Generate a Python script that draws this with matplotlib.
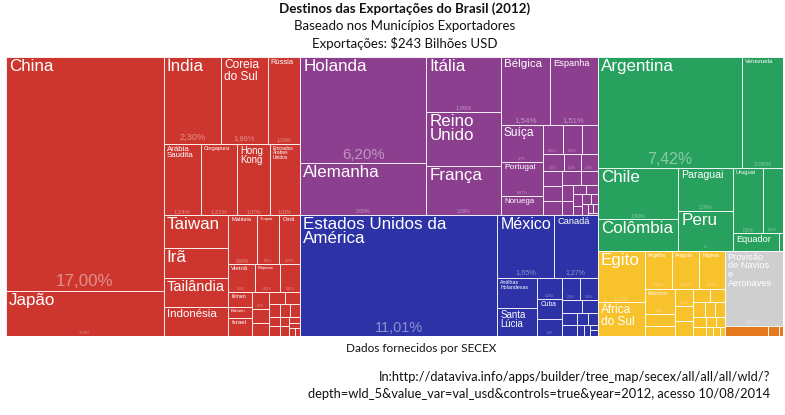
import matplotlib
matplotlib.use("Agg")
import matplotlib.pyplot as plt
from matplotlib.patches import Rectangle
from matplotlib.font_manager import FontProperties

# ---------------- data: share of Brazil's exports 2012 (%) ----------------
asia_names = ["China", "Japão", "Índia", "Coreia do Sul", "Rússia", "Arábia Saudita",
              "Cingapura", "Hong Kong", "Emirados Árabes Unidos", "Taiwan", "Irã",
              "Tailândia", "Indonésia", "Malásia", "Turquia", "Omã", "Vietnã",
              "Filipinas", "", "Iêmen", "Bahrein", "Israel"]
asia_values = [17.00, 3.28, 2.30, 1.86, 1.29, 1.24, 1.21, 1.07, 1.01, 0.97, 0.90,
               0.86, 0.85, 0.66, 0.50, 0.47, 0.34, 0.32, 0.26, 0.16, 0.12, 0.20]
asia_small = [0.13, 0.11, 0.10, 0.09, 0.08, 0.07, 0.06, 0.06, 0.05, 0.05, 0.04,
              0.04, 0.03, 0.03, 0.02, 0.02]

europe_names = ["Holanda", "Alemanha", "Itália", "Reino Unido", "França", "Bélgica",
                "Espanha", "Suíça", "Portugal", "Noruega", "", "", ""]
europe_values = [6.20, 3.00, 1.89, 1.84, 1.69, 1.54, 1.51, 0.70, 0.67, 0.36,
                 0.26, 0.26, 0.20]
europe_small = [0.17, 0.14, 0.14, 0.13, 0.13, 0.12, 0.12, 0.10, 0.08, 0.07, 0.06,
                0.05, 0.05, 0.04, 0.04, 0.03, 0.03, 0.02, 0.02, 0.01]

na_names = ["Estados Unidos da América", "México", "Canadá", "Antilhas Holandesas",
            "Santa Lúcia", "", "Cuba", ""]
na_values = [11.01, 1.65, 1.27, 0.55, 0.52, 0.24, 0.23, 0.20]
na_small = [0.18, 0.18, 0.12, 0.10, 0.08, 0.07, 0.06, 0.05, 0.04, 0.03, 0.02, 0.02]

sa_names = ["Argentina", "Venezuela", "Chile", "Colômbia", "Paraguai", "Peru",
            "Uruguai", "", "Equador", ""]
sa_values = [7.42, 2.08, 1.90, 1.17, 1.08, 1.00, 0.90, 0.61, 0.37, 0.03]

africa_names = ["Egito", "África do Sul", "Argélia", "Angola", "Nigéria", "Marrocos",
                "", "", "", "", ""]
africa_values = [1.12, 0.73, 0.48, 0.47, 0.44, 0.36, 0.17, 0.14, 0.14, 0.13, 0.12]
africa_small = [0.10, 0.09, 0.08, 0.07, 0.07, 0.06, 0.05, 0.05, 0.04, 0.03, 0.03, 0.02]

other_names = ["Provisão de Navios e Aeronaves"]
other_values = [2.01]

oceania_names = ["", "", ""]
oceania_values = [0.21, 0.05, 0.02]

title_lines = ["Destinos das Exportações do Brasil (2012)",
               "Baseado nos Municípios Exportadores",
               "Exportações: $243 Bilhões USD"]
source_text = "Dados fornecidos por SECEX"
ref_lines = ["In:http://dataviva.info/apps/builder/tree_map/secex/all/all/all/wld/?",
             "depth=wld_5&value_var=val_usd&controls=true&year=2012, acesso 10/08/2014"]

# ---------------- styles ----------------
COLORS = {"asia": "#CC362E", "europe": "#8C3F8F", "na": "#2D33A7",
          "sa": "#28A05E", "africa": "#F8C22D", "other": "#CFCFCF",
          "oceania": "#E5791F"}
LABEL_FONT = ["Liberation Sans", "DejaVu Sans"]
TEXT_FONT = ["Lato", "DejaVu Sans"]

regions = {
    "asia": dict(names=asia_names, values=asia_values, small=asia_small),
    "europe": dict(names=europe_names, values=europe_values, small=europe_small),
    "na": dict(names=na_names, values=na_values, small=na_small),
    "sa": dict(names=sa_names, values=sa_values, small=[]),
    "africa": dict(names=africa_names, values=africa_values, small=africa_small),
    "other": dict(names=other_names, values=other_values, small=[]),
    "oceania": dict(names=oceania_names, values=oceania_values, small=[]),
}

# slice structure ("h" = side by side, "v" = stacked); ints index region arrays
TREES = {
    "asia": ("h", [("v", [0, 1]),
                   ("v", [("h", [2, 3, 4]), ("h", [5, 6, 7, 8]),
                          ("h", [("v", [9, 10, 11, 12]),
                                 ("v", [("h", [13, 14, 15]), ("h", [16, 17, 18]),
                                        ("h", [("v", [19, 20, 21]), "small"])])])])]),
    "europe": ("h", [("v", [0, 1]), ("v", [2, 3, 4]),
                     ("v", [("h", [5, 6]),
                            ("h", [("v", [7, 8, 9]),
                                   ("v", [("h", [10, 11, 12]), "small"])])])]),
    "na": ("h", [0, ("v", [("h", [1, 2]),
                           ("h", [("v", [3, 4]), ("v", [5, 6, 7]), "small"])])]),
    "sa": ("v", [("h", [0, 1]),
                 ("h", [("v", [2, 3]), ("v", [4, 5]),
                        ("v", [("h", [6, 7]), ("h", [8, 9])])])]),
    "africa": ("h", [("v", [0, 1]),
                     ("v", [("h", [2, 3, 4]),
                            ("h", [("v", [5, 6, 7]), ("v", [8, 9, 10]), "small"])])]),
    "other": ("v", [0]),
    "oceania": ("h", [0, 1, 2]),
}


def bind(tree, reg):
    if isinstance(tree, int):
        return ("leaf", reg, tree)
    if tree == "small":
        return ("sq", reg)
    kind, kids = tree
    return (kind, [bind(k, reg) for k in kids])


B = {k: bind(t, k) for k, t in TREES.items()}
WORLD = ("h", [B["asia"], ("v", [B["europe"], B["na"]]),
               ("v", [B["sa"], ("h", [B["africa"], ("v", [B["other"], B["oceania"]])])])])


def node_value(n):
    if n[0] == "leaf":
        return regions[n[1]]["values"][n[2]]
    if n[0] == "sq":
        return sum(regions[n[1]]["small"])
    return sum(node_value(k) for k in n[1])


def worst(row, side):
    s = sum(row)
    return max(max(side * side * r / (s * s), (s * s) / (side * side * r)) for r in row)


def squarify(vals, x, y, w, h):
    total = sum(vals)
    areas = [v / total * w * h for v in vals]
    rects = []
    i = 0
    while i < len(areas):
        side = min(w, h)
        row = [areas[i]]
        j = i + 1
        while j < len(areas) and worst(row + [areas[j]], side) <= worst(row, side):
            row.append(areas[j])
            j += 1
        s = sum(row)
        if w >= h:
            cw = s / h
            yy = y
            for a in row:
                rh = a / cw
                rects.append((x, yy, cw, rh))
                yy += rh
            x += cw
            w -= cw
        else:
            rh = s / w
            xx = x
            for a in row:
                cw = a / rh
                rects.append((xx, y, cw, rh))
                xx += cw
            y += rh
            h -= rh
        i = j
    return rects


def layout(n, x, y, w, h, out):
    kind = n[0]
    if kind == "leaf":
        reg = regions[n[1]]
        out.append((x, y, w, h, reg["names"][n[2]], reg["values"][n[2]], n[1]))
        return
    if kind == "sq":
        vals = sorted(regions[n[1]]["small"], reverse=True)
        for (rx, ry, rw, rh), v in zip(squarify(vals, x, y, w, h), vals):
            out.append((rx, ry, rw, rh, "", v, n[1]))
        return
    kids = n[1]
    tot = sum(node_value(k) for k in kids)
    pos = 0.0
    for k in kids:
        f = node_value(k) / tot
        if kind == "h":
            layout(k, x + pos, y, w * f, h, out)
            pos += w * f
        else:
            layout(k, x, y + pos, w, h * f, out)
            pos += h * f


def fmt_pct(v):
    s = f"{v:.2f}"
    if v < 1:
        s = s.rstrip("0").rstrip(".")
    if s == "1.00":
        s = "1"
    return s.replace(".", ",") + "%"


# ---------------- figure ----------------
FW, FH, DPI = 785, 415, 100
fig = plt.figure(figsize=(FW / DPI, FH / DPI), dpi=DPI)
fig.patch.set_facecolor("white")
L, T, R, Bm = 6, 57, 783, 336
ax = fig.add_axes([L / FW, 1 - Bm / FH, (R - L) / FW, (Bm - T) / FH])
W, H = R - L, Bm - T
ax.set_xlim(0, W)
ax.set_ylim(H, 0)
ax.axis("off")

rects = []
layout(WORLD, 0, 0, W, H, rects)

renderer = fig.canvas.get_renderer()
PX2PT = 72.0 / DPI


def text_width(s, fs_px):
    prop = FontProperties(family=LABEL_FONT, size=fs_px * PX2PT)
    w, _, _ = renderer.get_text_width_height_descent(s, prop, ismath=False)
    return w


def wrap(name, fs_px, aw):
    words = name.split()
    lines, cur = [], ""
    for wd in words:
        if text_width(wd, fs_px) > aw:
            return None
        trial = (cur + " " + wd).strip()
        if text_width(trial, fs_px) <= aw:
            cur = trial
        else:
            lines.append(cur)
            cur = wd
    lines.append(cur)
    return lines


def fit_name(name, w, h):
    pad = 3
    aw = w - 2 * pad
    fs = 17.0
    while fs >= 4.0:
        lines = wrap(name, fs, aw)
        if lines is not None and len(lines) * fs * 1.05 <= 0.85 * h:
            if fs < 14:
                fs = fs * 0.88
            return fs, lines
        fs -= 0.5
    return None


for (x, y, w, h, name, val, reg) in rects:
    ax.add_patch(Rectangle((x, y), w, h, facecolor=COLORS[reg],
                           edgecolor=(1, 1, 1, 0.85), linewidth=0.7))
    block = 0
    if name:
        fit = fit_name(name, w, h)
        if fit:
            fs, lines = fit
            ax.text(x + 3, y + 2, "\n".join(lines), ha="left", va="top",
                    fontsize=fs * PX2PT, color="white", family=LABEL_FONT,
                    linespacing=0.95)
            block = len(lines) * fs * 1.05 + 3
    ps = min(17.0, 0.16 * w, 0.18 * (h - block - 2))
    if ps >= 2.6:
        ax.text(x + w / 2, y + h - 1.5, fmt_pct(val), ha="center", va="bottom",
                fontsize=ps * PX2PT, color=(1, 1, 1, 0.45), family=LABEL_FONT)

# ---------------- titles and notes ----------------
fig.text(405 / FW, 1 - 9 / FH, title_lines[0], ha="center", va="center",
         fontsize=9.6, fontweight="bold", family=TEXT_FONT, color="#111111")
fig.text(405 / FW, 1 - 26 / FH, title_lines[1], ha="center", va="center",
         fontsize=9.5, family=TEXT_FONT, color="#111111")
fig.text(405 / FW, 1 - 43 / FH, title_lines[2], ha="center", va="center",
         fontsize=9.5, family=TEXT_FONT, color="#111111")
fig.text(421 / FW, 1 - 348 / FH, source_text, ha="center", va="center",
         fontsize=8.5, family=TEXT_FONT, color="#111111")
fig.text(770 / FW, 1 - 377 / FH, ref_lines[0], ha="right", va="center",
         fontsize=9.3, family=TEXT_FONT, color="#111111")
fig.text(770 / FW, 1 - 394 / FH, ref_lines[1], ha="right", va="center",
         fontsize=9.3, family=TEXT_FONT, color="#111111")

fig.savefig("out.png", dpi=DPI, facecolor="white")
